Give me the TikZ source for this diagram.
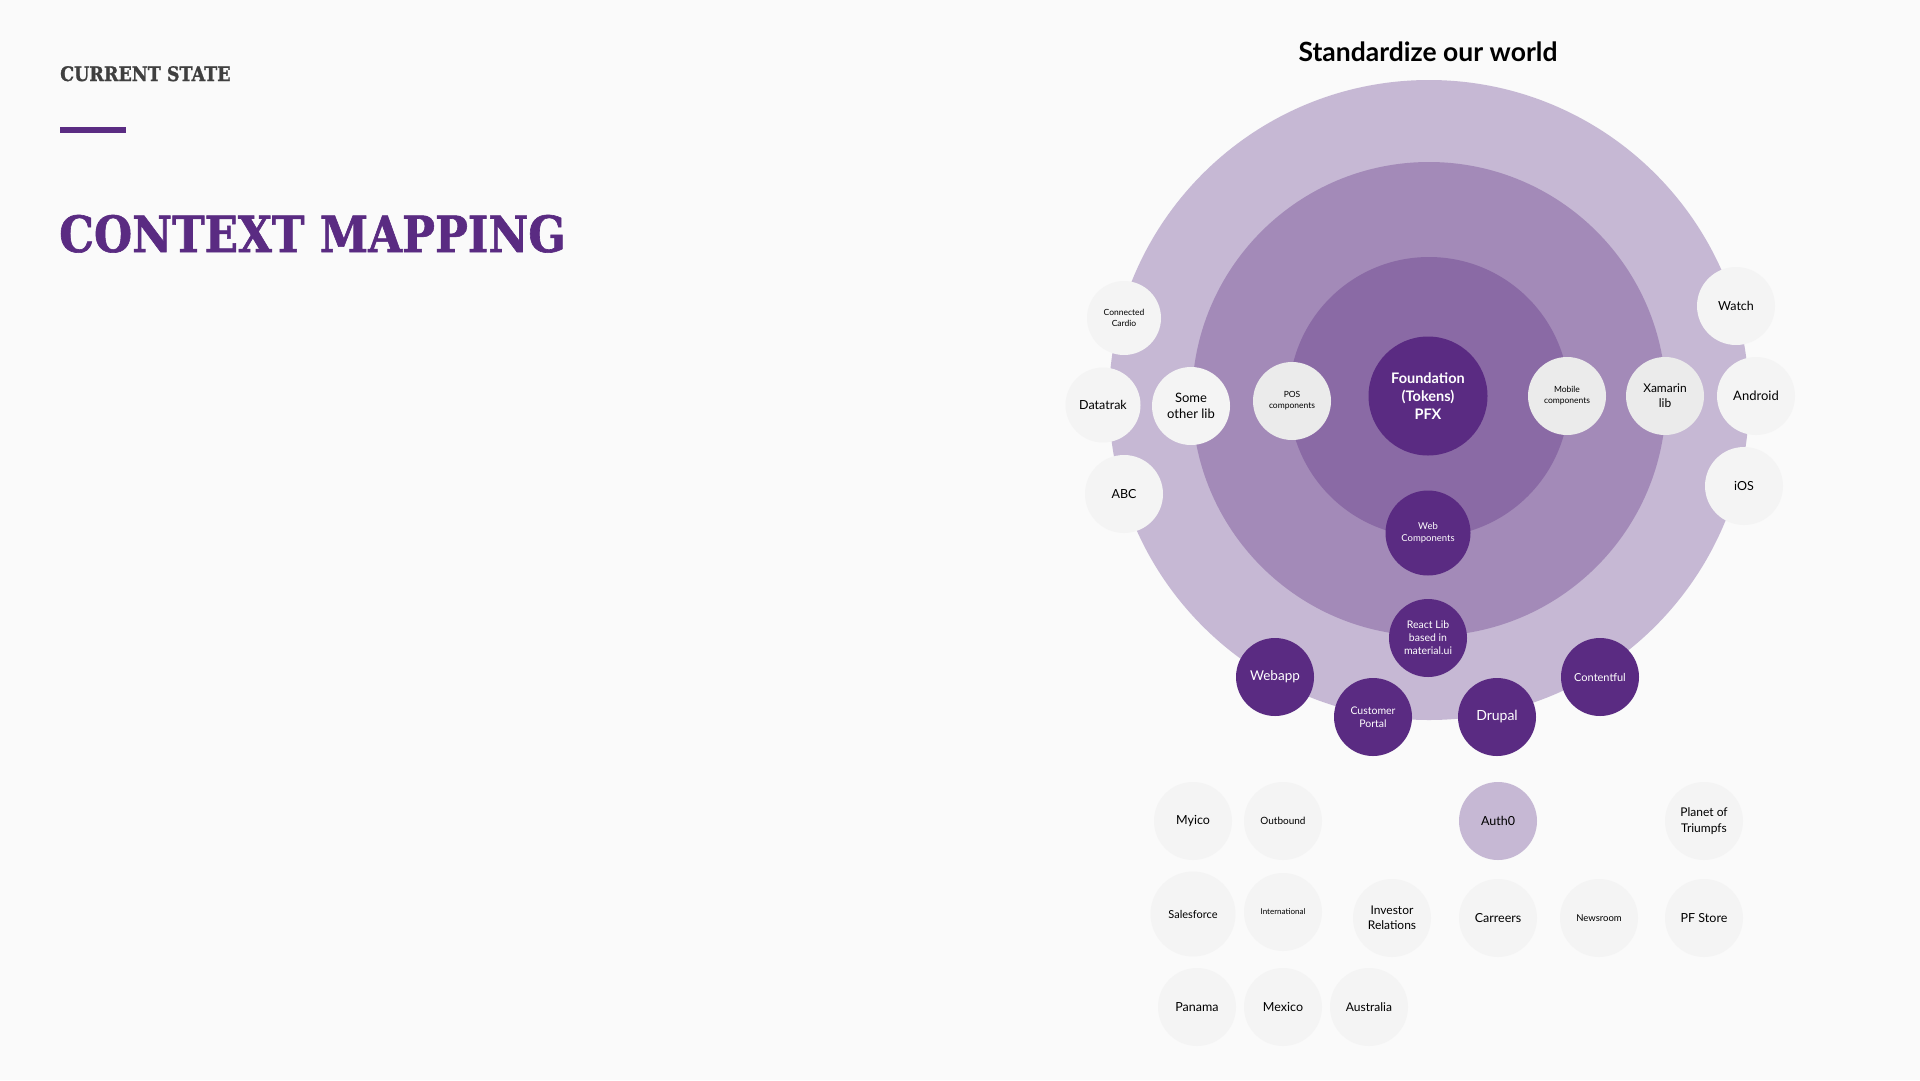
\documentclass[tikz,border=0pt]{standalone}
\usepackage{fontspec}
\setsansfont{Lato}
\newfontfamily\slab[FakeStretch=0.875,BoldFeatures={FakeBold=1.2}]{DejaVu Serif}
\newcommand\fsz[2]{\fontsize{#1}{#2}\selectfont}
\definecolor{bg}{HTML}{FAFAFA}
\definecolor{ringA}{HTML}{C6B8D4}
\definecolor{ringB}{HTML}{A38AB8}
\definecolor{ringC}{HTML}{8A6AA5}
\definecolor{deep}{HTML}{5A2B82}
\definecolor{lite}{HTML}{F4F4F4}
\definecolor{liteB}{HTML}{EBEBEB}
\definecolor{greytxt}{HTML}{3F3F3F}
\tikzset{
  bub/.style={circle, minimum size=78pt, inner sep=0pt, align=center, font=\sffamily\fsz{13}{16}, text=black},
  litebub/.style={bub, fill=lite},
  greybub/.style={bub, fill=liteB},
  deepbub/.style={bub, fill=deep, text=white},
  authbub/.style={bub, fill=ringA},
}
\begin{document}
\begin{tikzpicture}[x=1pt,y=-1pt]
\fill[bg] (0,0) rectangle (1920,1080);
\useasboundingbox (0,0) rectangle (1920,1080);

% left titles
\node[anchor=base west, inner sep=0pt, text=greytxt, font=\slab\bfseries\fsz{20}{24}] (cur) at (60,81) {CURRENT STATE};
\fill[deep] (60,127) rectangle (126,133);
\node[anchor=base west, inner sep=0pt, text=deep, font=\slab\bfseries\fsz{50}{60}] (ctx) at (59,252) {CONTEXT MAPPING};

% heading
\node[anchor=base, inner sep=0pt, font=\sffamily\bfseries\fsz{26.5}{30}] (head) at (1428,61) {Standardize our world};

% rings
\node[circle, fill=ringA, minimum size=640pt, inner sep=0pt] (outer) at (1429,400) {};
\node[circle, fill=ringB, minimum size=474pt, inner sep=0pt] (middle) at (1429,399) {};
\node[circle, fill=ringC, minimum size=280pt, inner sep=0pt] (inner) at (1429,397) {};

% core
\node[deepbub, minimum size=119pt, font=\sffamily\bfseries\fsz{14.5}{18}] (found) at (1428,396) {Foundation\\(Tokens)\\PFX};
\node[deepbub, minimum size=85pt, font=\sffamily\fsz{9.5}{11.7}] (web) at (1428,533) {Web\\Components};
\node[deepbub, font=\sffamily\fsz{10.5}{13}] (react) at (1428,638) {React Lib\\based in\\material.ui};
\node[deepbub, font=\sffamily\fsz{13.5}{16}] (webapp) at (1275,677) {Webapp};
\node[deepbub, font=\sffamily\fsz{10.5}{13}] (portal) at (1373,717) {Customer\\Portal};
\node[deepbub, font=\sffamily\fsz{14}{16}] (drupal) at (1497,717) {Drupal};
\node[deepbub, font=\sffamily\fsz{11}{13}] (content) at (1600,677) {Contentful};

% inner light
\node[greybub, font=\sffamily\fsz{8.5}{11}] (pos) at (1292,401) {POS\\components};
\node[greybub, font=\sffamily\fsz{8.5}{11}] (mobile) at (1567,396) {Mobile\\components};
\node[greybub, font=\sffamily\fsz{12}{15}] (xamarin) at (1665,396) {Xamarin\\lib};

% outer light left
\node[litebub, minimum size=74pt, font=\sffamily\fsz{8.5}{11}] (cardio) at (1124,318) {Connected\\Cardio};
\node[litebub, minimum size=75pt, font=\sffamily\fsz{12.5}{15}] (datatrak) at (1103,405) {Datatrak};
\node[litebub, font=\sffamily\fsz{13}{16}] (other) at (1191,406) {Some\\other lib};
\node[litebub, font=\sffamily\fsz{12.5}{15}] (abc) at (1124,494) {ABC};

% outer light right
\node[litebub, font=\sffamily\fsz{12.5}{15}] (watch) at (1736,306) {Watch};
\node[litebub, font=\sffamily\fsz{13}{15}] (android) at (1756,396) {Android};
\node[litebub, font=\sffamily\fsz{12.5}{15}] (ios) at (1744,486) {iOS};

% bottom grid
\node[litebub, font=\sffamily\fsz{12.5}{15}] (myico) at (1193,821) {Myico};
\node[litebub, font=\sffamily\fsz{10}{12}] (outbound) at (1283,821) {Outbound};
\node[authbub, font=\sffamily\fsz{12.5}{15}] (auth) at (1498,821) {Auth0};
\node[litebub, font=\sffamily\fsz{12}{16}] (planet) at (1704,821) {Planet of\\Triumpfs};

\node[litebub, minimum size=85pt, font=\sffamily\fsz{11}{13}] (sales) at (1193,914) {Salesforce};
\node[litebub, font=\sffamily\fsz{8}{10}] (intl) at (1283,912) {International};
\node[litebub, font=\sffamily\fsz{12}{15}] (investor) at (1392,918) {Investor\\Relations};
\node[litebub, font=\sffamily\fsz{12.5}{15}] (careers) at (1498,918) {Carreers};
\node[litebub, font=\sffamily\fsz{9.5}{12}] (news) at (1599,918) {Newsroom};
\node[litebub, font=\sffamily\fsz{12.5}{15}] (pfstore) at (1704,918) {PF Store};

\node[litebub, font=\sffamily\fsz{12.5}{15}] (panama) at (1197,1007) {Panama};
\node[litebub, font=\sffamily\fsz{12.5}{15}] (mexico) at (1283,1007) {Mexico};
\node[litebub, font=\sffamily\fsz{12}{15}] (australia) at (1369,1007) {Australia};
\end{tikzpicture}
\end{document}
